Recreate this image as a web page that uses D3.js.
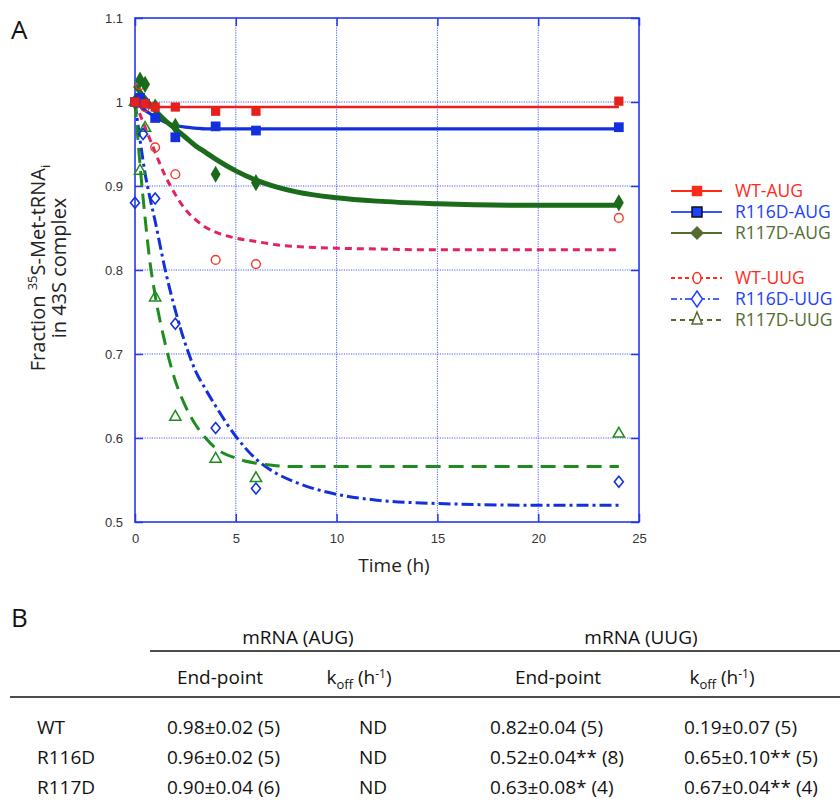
<!DOCTYPE html>
<html lang="en">
<head>
  <meta charset="UTF-8">
  <title>43S complex dissociation</title>
  <script src="https://d3js.org/d3.v7.min.js"></script>
  <style>
    body { margin: 0; background: #fff; }
    svg { display: block; font-family: "Open Sans", sans-serif; }
    .tick text { font-family: "Liberation Sans", Arial, sans-serif; font-size: 13px; fill: #333; }
  </style>
</head>
<body>
<svg width="840" height="809"></svg>
<script>
// ---- data ----
const xTicks = [0, 5, 10, 15, 20, 25];
const yTicks = [0.5, 0.6, 0.7, 0.8, 0.9, 1, 1.1];

// measured points
const wtAugT = [0, 0.5, 1, 2, 4, 6, 24];
const wtAugV = [1.0, 0.998, 0.994, 0.994, 0.989, 0.989, 1.001];
const r116AugT = [0, 0.25, 0.5, 1, 2, 4, 6, 24];
const r116AugV = [1.0, 1.005, 0.998, 0.981, 0.958, 0.971, 0.966, 0.970];
const r117AugT = [0, 0.25, 0.5, 1, 2, 4, 6, 24];
const r117AugV = [1.0, 1.026, 1.021, 0.994, 0.971, 0.914, 0.904, 0.880];
const wtUugT = [0, 0.25, 0.5, 1, 2, 4, 6, 24];
const wtUugV = [1.0, 1.02, 0.994, 0.946, 0.914, 0.812, 0.807, 0.862];
const r116UugT = [0, 0.4, 1, 2, 4, 6, 24];
const r116UugV = [0.88, 0.962, 0.885, 0.736, 0.612, 0.540, 0.548];
const r117UugT = [0, 0.25, 0.5, 1, 2, 4, 6, 24];
const r117UugV = [1.0, 0.918, 0.969, 0.767, 0.625, 0.575, 0.552, 0.605];

// fitted curves
const fitT = [0, 0.25, 0.5, 0.75, 1, 1.5, 2, 2.5, 3, 3.5, 4, 5, 6, 7, 8, 10, 12, 15, 20, 24];
const wtAugFit   = [1.0, 0.998, 0.996, 0.995, 0.994, 0.994, 0.994, 0.994, 0.994, 0.994, 0.994, 0.994, 0.994, 0.994, 0.994, 0.994, 0.994, 0.994, 0.994, 0.994];
const r116AugFit = [1.0, 0.995, 0.99, 0.986, 0.982, 0.976, 0.972, 0.970, 0.969, 0.968, 0.968, 0.968, 0.968, 0.968, 0.968, 0.968, 0.968, 0.968, 0.968, 0.968];
const r117AugFit = [1.02, 1.012, 1.004, 0.997, 0.99, 0.978, 0.968, 0.958, 0.948, 0.94, 0.932, 0.918, 0.907, 0.899, 0.893, 0.886, 0.882, 0.879, 0.877, 0.877];
const wtUugFit   = [1.0, 0.985, 0.97, 0.955, 0.94, 0.912, 0.89, 0.872, 0.86, 0.851, 0.845, 0.838, 0.834, 0.83, 0.828, 0.826, 0.825, 0.824, 0.824, 0.824];
const r116UugFit = [1.0, 0.955, 0.915, 0.885, 0.858, 0.80, 0.752, 0.712, 0.68, 0.658, 0.638, 0.602, 0.575, 0.558, 0.547, 0.533, 0.526, 0.522, 0.52, 0.52];
const r117UugFit = [1.0, 0.925, 0.862, 0.808, 0.77, 0.712, 0.668, 0.638, 0.616, 0.60, 0.588, 0.576, 0.57, 0.567, 0.566, 0.566, 0.566, 0.566, 0.566, 0.566];

const legendNames = ["WT-AUG", "R116D-AUG", "R117D-AUG", "WT-UUG", "R116D-UUG", "R117D-UUG"];

// table
const tableRows = ["WT", "R116D", "R117D"];
const augEnd = ["0.98±0.02 (5)", "0.96±0.02 (5)", "0.90±0.04 (6)"];
const augKoff = ["ND", "ND", "ND"];
const uugEnd = ["0.82±0.04 (5)", "0.52±0.04** (8)", "0.63±0.08* (4)"];
const uugKoff = ["0.19±0.07 (5)", "0.65±0.10** (5)", "0.67±0.04** (4)"];

// ---- chart ----
const svg = d3.select("svg");
const x = d3.scaleLinear().domain([0, 25]).range([135, 639]);
const y = d3.scaleLinear().domain([0.5, 1.1]).range([522, 18]);
const frameBlue = "#2438ee";

// grid
const grid = svg.append("g").attr("stroke", "#4a5cff").attr("stroke-width", 1).attr("stroke-dasharray", "1.2,1.2");
grid.selectAll("line.v").data(xTicks.slice(1, -1)).join("line")
  .attr("x1", d => x(d)).attr("x2", d => x(d)).attr("y1", y(1.1)).attr("y2", y(0.5));
grid.selectAll("line.h").data(yTicks.slice(1, -1)).join("line")
  .attr("x1", x(0)).attr("x2", x(25)).attr("y1", d => y(d)).attr("y2", d => y(d));

// axes (inward ticks)
const fmt = d => d3.format("~g")(d);
const axL = svg.append("g").attr("transform", `translate(${x(0)},0)`)
  .call(d3.axisLeft(y).tickValues(yTicks).tickFormat(fmt).tickSizeInner(-8).tickSizeOuter(0).tickPadding(12));
const axB = svg.append("g").attr("transform", `translate(0,${y(0.5)})`)
  .call(d3.axisBottom(x).tickValues(xTicks).tickFormat(fmt).tickSizeInner(-8).tickSizeOuter(0).tickPadding(12));
const axR = svg.append("g").attr("transform", `translate(${x(25)},0)`)
  .call(d3.axisRight(y).tickValues(yTicks).tickFormat("").tickSizeInner(-8).tickSizeOuter(0));
const axT = svg.append("g").attr("transform", `translate(0,${y(1.1)})`)
  .call(d3.axisTop(x).tickValues(xTicks).tickFormat("").tickSizeInner(-8).tickSizeOuter(0));
[axL, axB, axR, axT].forEach(a => {
  a.select(".domain").remove();
  a.selectAll(".tick line").attr("stroke", frameBlue).attr("stroke-width", 1.5);
});

svg.append("rect")
  .attr("x", x(0)).attr("y", y(1.1))
  .attr("width", x(25) - x(0)).attr("height", y(0.5) - y(1.1))
  .attr("fill", "none").attr("stroke", frameBlue).attr("stroke-width", 1.6);

// fits
const line = d3.line().curve(d3.curveMonotoneX).x(d => x(d[0])).y(d => y(d[1]));
const fits = [
  { v: wtAugFit, c: "#e8201c", w: 2.6, dash: null },
  { v: r116AugFit, c: "#1231dc", w: 3.2, dash: null },
  { v: r117AugFit, c: "#1b6b1b", w: 5, dash: null },
  { v: wtUugFit, c: "#e0245e", w: 3, dash: "7,5" },
  { v: r116UugFit, c: "#1231dc", w: 3, dash: "12,4,3,4" },
  { v: r117UugFit, c: "#1e8c1e", w: 3, dash: "15,8" }
];
svg.append("g").attr("fill", "none").selectAll("path").data(fits).join("path")
  .attr("d", d => line(fitT.map((t, i) => [t, d.v[i]])))
  .attr("stroke", d => d.c).attr("stroke-width", d => d.w)
  .attr("stroke-dasharray", d => d.dash);

// markers
const sym = (type, size) => d3.symbol().type(type).size(size)();
function points(ts, vs, shape, fill, stroke, sw) {
  svg.append("g").selectAll("path").data(ts.map((t, i) => [t, vs[i]])).join("path")
    .attr("transform", d => `translate(${x(d[0])},${y(d[1])})`)
    .attr("d", shape)
    .attr("fill", fill).attr("stroke", stroke).attr("stroke-width", sw);
}
points(r117UugT, r117UugV, sym(d3.symbolTriangle, 55), "none", "#1e8c1e", 1.5);
points(r116UugT, r116UugV, "M0,-5.5L4.5,0L0,5.5L-4.5,0Z", "none", "#1231dc", 1.6);
points(wtUugT, wtUugV, sym(d3.symbolCircle, 60), "none", "#f03a28", 1.4);
points(r117AugT, r117AugV, sym(d3.symbolDiamond, 85), "#1b6b1b", "none", 0);
points(r116AugT, r116AugV, sym(d3.symbolSquare, 95), "#1231dc", "none", 0);
points(wtAugT, wtAugV, sym(d3.symbolSquare, 85), "#e8201c", "none", 0);

// axis titles
svg.append("text").attr("x", 394).attr("y", 572).attr("text-anchor", "middle")
  .attr("font-size", 19).attr("fill", "#222").text("Time (h)");
const yl = svg.append("g").attr("transform", "translate(45,268) rotate(-90)")
  .attr("font-size", 20).attr("fill", "#222").attr("text-anchor", "middle");
const t1 = yl.append("text").attr("y", 0);
t1.append("tspan").text("Fraction ");
t1.append("tspan").attr("font-size", 13).attr("dy", -8).text("35");
t1.append("tspan").attr("dy", 8).text("S-Met-tRNA");
t1.append("tspan").attr("font-size", 13).attr("dy", 5).text("i");
yl.append("text").attr("y", 21).text("in 43S complex");

svg.append("text").attr("x", 11).attr("y", 39).attr("font-size", 26).attr("fill", "#111").text("A");
svg.append("text").attr("x", 11).attr("y", 627).attr("font-size", 26).attr("fill", "#111").text("B");

// legend
const legColors = ["#ff2a1a", "#2040ff", "#556b2f", "#ff2a1a", "#2040ff", "#556b2f"];
const legLine = ["#ff2a1a", "#3355ff", "#556b2f", "#ff2a1a", "#4466ff", "#556b2f"];
const legDash = [null, null, null, "4,3", "6,3,2,3", "5,4"];
const legY = [191, 212, 233, 278, 299, 320];
const leg = svg.append("g");
legendNames.forEach((name, i) => {
  const yy = legY[i];
  leg.append("line").attr("x1", 671).attr("x2", 722).attr("y1", yy).attr("y2", yy)
    .attr("stroke", legLine[i]).attr("stroke-width", 2).attr("stroke-dasharray", legDash[i]);
  const m = leg.append("path").attr("transform", `translate(697,${yy})`);
  if (i === 0) m.attr("d", sym(d3.symbolSquare, 110)).attr("fill", "#ff2a1a");
  if (i === 1) m.attr("d", sym(d3.symbolSquare, 100)).attr("fill", "#1f3fff").attr("stroke", "#111").attr("stroke-width", 1.5);
  if (i === 2) m.attr("d", "M0,-7L7,0L0,7L-7,0Z").attr("fill", "#556b2f");
  if (i === 3) m.attr("d", "M0,-5.5A4,5.5 0 1,1 0,5.5A4,5.5 0 1,1 0,-5.5Z").attr("fill", "#fff").attr("stroke", "#ff2a1a").attr("stroke-width", 1.5);
  if (i === 4) m.attr("d", "M0,-8L5.5,0L0,8L-5.5,0Z").attr("fill", "#fff").attr("stroke", "#2040ff").attr("stroke-width", 1.5);
  if (i === 5) m.attr("d", "M0,-8L5,4L-5,4Z").attr("fill", "#fff").attr("stroke", "#556b2f").attr("stroke-width", 1.5);
  leg.append("text").attr("x", 735).attr("y", yy).attr("dy", "0.36em")
    .attr("font-size", 17.5).attr("fill", legColors[i]).text(name);
});

// ---- table ----
const tb = svg.append("g").attr("font-size", 19).attr("fill", "#111");
tb.append("text").attr("x", 298).attr("y", 637).attr("dy", "0.35em").attr("text-anchor", "middle").text("mRNA (AUG)");
tb.append("text").attr("x", 641).attr("y", 637).attr("dy", "0.35em").attr("text-anchor", "middle").text("mRNA (UUG)");
tb.append("line").attr("x1", 150).attr("x2", 840).attr("y1", 651).attr("y2", 651).attr("stroke", "#111").attr("stroke-width", 1.5);
tb.append("line").attr("x1", 10).attr("x2", 840).attr("y1", 697).attr("y2", 697).attr("stroke", "#111").attr("stroke-width", 1.5);

const headX = [220, 359, 558, 722];
headX.forEach((hx, i) => {
  const t = tb.append("text").attr("x", hx).attr("y", 677).attr("dy", "0.35em").attr("text-anchor", "middle");
  if (i % 2 === 0) t.text("End-point");
  else {
    t.append("tspan").text("k");
    t.append("tspan").attr("font-size", 13).attr("dy", 5).text("off");
    t.append("tspan").attr("dy", -5).text(" (h");
    t.append("tspan").attr("font-size", 12).attr("dy", -6).text("-1");
    t.append("tspan").attr("dy", 6).text(")");
  }
});

const rowY = [727, 757, 787];
tableRows.forEach((r, i) => {
  const yy = rowY[i];
  tb.append("text").attr("x", 37).attr("y", yy).attr("dy", "0.35em").text(r);
  tb.append("text").attr("x", 167).attr("y", yy).attr("dy", "0.35em").text(augEnd[i]);
  tb.append("text").attr("x", 373).attr("y", yy).attr("dy", "0.35em").attr("text-anchor", "middle").text(augKoff[i]);
  tb.append("text").attr("x", 490).attr("y", yy).attr("dy", "0.35em").text(uugEnd[i]);
  tb.append("text").attr("x", 684).attr("y", yy).attr("dy", "0.35em").text(uugKoff[i]);
});
</script>
</body>
</html>
